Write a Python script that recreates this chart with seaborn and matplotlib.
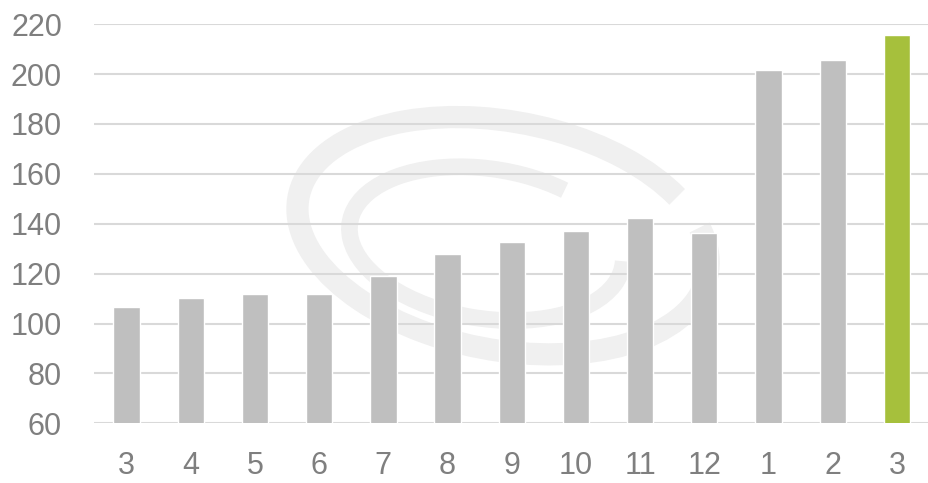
import matplotlib
matplotlib.use("Agg")
import matplotlib.pyplot as plt
import seaborn as sns
import pandas as pd
from matplotlib.patches import Arc

months = ["3", "4", "5", "6", "7", "8", "9", "10", "11", "12", "1", "2", "3 "]
values = [106.8, 110.1, 111.8, 111.8, 118.9, 128.0, 132.6, 137.2, 142.2, 136.4, 201.8, 205.5, 215.6]
yticks = [60, 80, 100, 120, 140, 160, 180, 200, 220]

sns.set_theme(style="white")
plt.rcParams['font.family'] = ['Liberation Sans', 'DejaVu Sans']

df = pd.DataFrame({"month": months, "value": values})
palette = ["#bfbfbf"] * (len(months) - 1) + ["#a6c03c"]

fig = plt.figure(figsize=(9.29, 4.83), dpi=100)
ax = fig.add_axes([0.101, 0.1236, 0.899, 0.8264])

# faint watermark rings
for (cx, cy, w, h, ang, lw, t1, t2) in [(0.49, 0.47, 0.46, 0.62, 25, 16, 0, 340),
                                         (0.47, 0.45, 0.31, 0.40, 25, 12, 30, 320)]:
    ax.add_patch(Arc((cx, cy), w, h, angle=ang, theta1=t1, theta2=t2, transform=ax.transAxes,
                     color="#f0f0f0", lw=lw, zorder=0))

sns.barplot(data=df, x="month", y="value", hue="month", palette=palette, legend=False,
            width=0.41, ax=ax, zorder=2, saturation=1)

ax.set_ylim(60, 220)
ax.set_xlim(-0.51, len(months) - 0.5)
ax.set_yticks(yticks)
ax.set_yticklabels([str(t) for t in yticks])
ax.set_xticks(range(len(months)))
ax.set_xticklabels([m.strip() for m in months])
ax.yaxis.grid(True, color="#d9d9d9", lw=1.5, zorder=1)
ax.set_axisbelow(True)
for s in ax.spines.values():
    s.set_visible(False)
ax.set_xlabel("")
ax.set_ylabel("")
ax.tick_params(axis="y", length=0, pad=23, labelsize=22, labelcolor="#7f7f7f")
ax.tick_params(axis="x", length=0, pad=20, labelsize=22, labelcolor="#7f7f7f")

fig.savefig("out.png", dpi=100)
